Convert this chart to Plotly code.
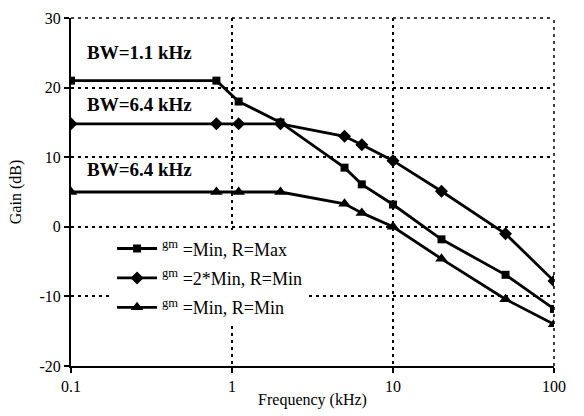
import plotly.graph_objects as go

freq = [0.1, 0.8, 1.1, 2, 5, 6.4, 10, 20, 50, 100]
gain_min_rmax = [21, 21, 18, 15, 8.5, 6.1, 3.2, -1.8, -6.9, -11.8]
gain_2min_rmin = [14.8, 14.8, 14.8, 14.8, 13.0, 11.8, 9.5, 5.1, -1.0, -7.8]
gain_min_rmin = [5.0, 5.0, 5.0, 5.0, 3.3, 2.0, 0.0, -4.6, -10.4, -14.0]

names = ["<sup>gm</sup> =Min, R=Max", "<sup>gm</sup> =2*Min, R=Min", "<sup>gm</sup> =Min, R=Min"]
symbols = ["square", "diamond", "triangle-up"]
msizes = [8, 10, 11]
series = [gain_min_rmax, gain_2min_rmin, gain_min_rmin]

bw_labels = ["BW=1.1 kHz", "BW=6.4 kHz", "BW=6.4 kHz"]
bw_y = [25.0, 17.6, 8.2]

x_ticks = [0.1, 1, 10, 100]
x_ticktext = ["0.1", "1", "10", "100"]
y_ticks = [-20, -10, 0, 10, 20, 30]
y_ticktext = ["-20", "-10", "0", "10", "20", "30"]

FONT = "Liberation Serif"

fig = go.Figure()
for i, (nm, ys) in enumerate(zip(names, series)):
    fig.add_trace(go.Scatter(
        x=freq, y=ys, mode="lines+markers", name=nm,
        legendgroup=f"g{i}",
        line=dict(color="black", width=2.8),
        marker=dict(symbol=symbols[i], size=msizes[i], color="black"),
    ))

for txt, yv in zip(bw_labels, bw_y):
    fig.add_annotation(x=-0.91, y=yv, xref="x", yref="y", text=f"<b>{txt}</b>",
                       showarrow=False, xanchor="left",
                       font=dict(family=FONT, size=19, color="black"))

# dashed top and right borders (gridlines at the range ends)
fig.add_shape(type="line", xref="x domain", yref="y domain", x0=0, x1=1, y0=1, y1=1,
              line=dict(color="black", width=1.5, dash="3px,4px"))
fig.add_shape(type="line", xref="x domain", yref="y domain", x0=1, x1=1, y0=0, y1=1,
              line=dict(color="black", width=1.5, dash="3px,4px"))

axis_common = dict(
    showline=True, linecolor="black", linewidth=2,
    ticks="outside", ticklen=5, tickwidth=2, tickcolor="black",
    showgrid=True, gridcolor="black", gridwidth=1.5, griddash="3px,4px",
    zeroline=False,
    tickfont=dict(family=FONT, size=16, color="black"),
)

fig.update_xaxes(type="log", range=[-1, 2], tickvals=x_ticks, ticktext=x_ticktext,
                 title=dict(text="Frequency (kHz)", font=dict(family=FONT, size=16, color="black"),
                            standoff=0),
                 **axis_common)
fig.update_yaxes(range=[-20, 30], tickvals=y_ticks, ticktext=y_ticktext,
                 title=dict(text="Gain (dB)", font=dict(family=FONT, size=16, color="black"),
                            standoff=14),
                 **axis_common)

fig.update_layout(
    width=584, height=416,
    margin=dict(l=71, r=30, t=10, b=46),
    plot_bgcolor="white", paper_bgcolor="white",
    font=dict(family=FONT, color="black"),
    showlegend=True,
    legend=dict(x=0.085, y=0.39, xanchor="left", yanchor="top",
                bgcolor="white", borderwidth=0, tracegroupgap=3,
                font=dict(family=FONT, size=18, color="black"),
                itemwidth=40),
)

fig.write_html("out.html", config={"displayModeBar": False},
               post_script="document.body.style.margin='0';")
